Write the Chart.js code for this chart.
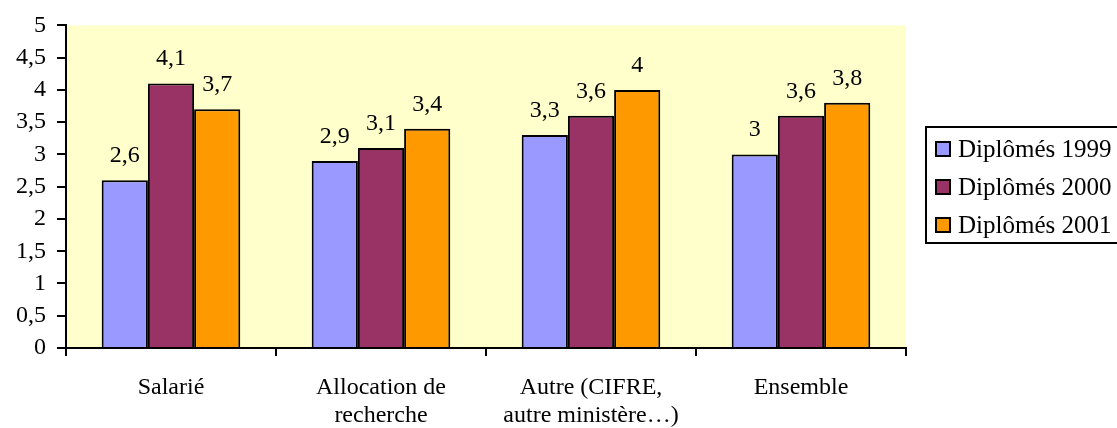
<!DOCTYPE html>
<html>
<head>
<meta charset="utf-8">
<script src="https://cdn.jsdelivr.net/npm/chart.js@4"></script>
<style>
html,body{margin:0;padding:0;background:#fff;}
#wrap{width:1117px;height:428px;position:relative;}
</style>
</head>
<body>
<div id="wrap"><canvas id="c" width="1117" height="428"></canvas></div>
<script>
const categories = [["Salarié"], ["Allocation de", "recherche"], ["Autre (CIFRE,", "autre ministère…)"], ["Ensemble"]];
const seriesLabels = ["Diplômés 1999", "Diplômés 2000", "Diplômés 2001"];
const values1999 = [2.6, 2.9, 3.3, 3.0];
const values2000 = [4.1, 3.1, 3.6, 3.6];
const values2001 = [3.7, 3.4, 4.0, 3.8];
const yTicks = [0, 0.5, 1, 1.5, 2, 2.5, 3, 3.5, 4, 4.5, 5];
const colors = ["#9999FF", "#993366", "#FF9900"];

const FONT = "'Liberation Serif', 'Times New Roman', serif";
const FS = 24;
const fmt = v => String(v).replace('.', ',');

const bgPlugin = {
  id: 'bg',
  beforeDraw(chart) {
    const {ctx, chartArea: a} = chart;
    ctx.save();
    ctx.fillStyle = '#FFFFCC';
    ctx.fillRect(a.left, a.top, a.right - a.left, a.bottom - a.top);
    ctx.restore();
  }
};

const labelPlugin = {
  id: 'vals',
  afterDatasetsDraw(chart) {
    const ctx = chart.ctx;
    ctx.save();
    ctx.font = FS + 'px ' + FONT;
    ctx.fillStyle = '#000';
    ctx.textAlign = 'center';
    ctx.textBaseline = 'alphabetic';
    chart.data.datasets.forEach((ds, i) => {
      chart.getDatasetMeta(i).data.forEach((bar, j) => {
        ctx.fillText(fmt(ds.data[j]), bar.x, bar.y - 18);
      });
    });
    ctx.restore();
  }
};

const legendPlugin = {
  id: 'boxLegend',
  afterDraw(chart) {
    const ctx = chart.ctx;
    ctx.save();
    const left = 926, top = 127, bottom = 243;
    ctx.lineWidth = 2;
    ctx.strokeStyle = '#000';
    ctx.strokeRect(left, top, 1117 - left + 5, bottom - top);
    ctx.font = '25px ' + FONT;
    ctx.textBaseline = 'middle';
    ctx.textAlign = 'left';
    chart.data.datasets.forEach((ds, i) => {
      const cy = 149 + i * 38;
      ctx.fillStyle = ds.backgroundColor;
      ctx.fillRect(936, cy - 7, 14, 14);
      ctx.lineWidth = 2;
      ctx.strokeRect(936, cy - 7, 14, 14);
      ctx.fillStyle = '#000';
      ctx.fillText(ds.label, 958, cy + 1);
    });
    ctx.restore();
  }
};

new Chart(document.getElementById('c'), {
  type: 'bar',
  data: {
    labels: categories,
    datasets: [
      {label: seriesLabels[0], data: values1999, backgroundColor: colors[0]},
      {label: seriesLabels[1], data: values2000, backgroundColor: colors[1]},
      {label: seriesLabels[2], data: values2001, backgroundColor: colors[2]}
    ].map(d => Object.assign(d, {borderColor: '#000', borderWidth: 2, categoryPercentage: 0.66, barPercentage: 1}))
  },
  options: {
    responsive: false,
    animation: false,
    layout: {padding: {top: 24, right: 211, left: 0, bottom: 0}},
    plugins: {legend: {display: false}, tooltip: {enabled: false}},
    scales: {
      x: {
        grid: {offset: true, drawOnChartArea: false, color: '#000', tickLength: 8, lineWidth: 2},
        border: {color: '#000', width: 2},
        ticks: {color: '#000', font: {family: FONT, size: FS}, padding: 17, maxRotation: 0, autoSkip: false},
        afterFit(s) { s.height = 80; }
      },
      y: {
        min: 0, max: 5,
        afterBuildTicks(s) { s.ticks = yTicks.map(v => ({value: v})); },
        grid: {drawOnChartArea: false, color: '#000', tickLength: 9, lineWidth: 2},
        border: {color: '#000', width: 2},
        ticks: {color: '#000', font: {family: FONT, size: FS}, padding: 11, callback: v => fmt(v)},
        afterFit(s) { s.width = 66; }
      }
    }
  },
  plugins: [bgPlugin, labelPlugin, legendPlugin]
});
</script>
</body>
</html>
